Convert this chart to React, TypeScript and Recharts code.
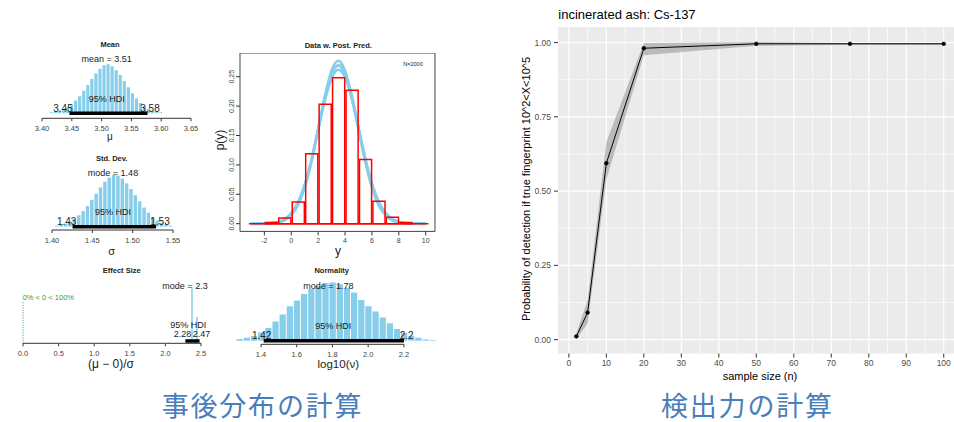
import { type ReactNode } from "react";
import {
  ComposedChart,
  Bar,
  Line,
  Area,
  XAxis,
  YAxis,
  CartesianGrid,
  ReferenceLine,
  ReferenceArea,
} from "recharts";

const SANS = "'Liberation Sans', Arial, Helvetica, sans-serif";
const JP = "'Noto Sans CJK JP', 'Noto Sans CJK SC', sans-serif";
const SKY = "#87CEEB";
const CAPTION = "#4A7EBB";

// --- posterior: mean (mu)
const meanBinStart = 3.413;
const meanBinWidth = 0.0068;
const meanCounts = [
  0.02, 0.03, 0.05, 0.08, 0.12, 0.18, 0.26, 0.35, 0.46, 0.58, 0.7, 0.81, 0.91, 0.98,
  1.0, 0.96, 0.88, 0.78, 0.66, 0.53, 0.41, 0.3, 0.21, 0.14, 0.09, 0.05, 0.03, 0.02,
];
const meanTicks = [3.4, 3.45, 3.5, 3.55, 3.6, 3.65];
const meanHdi = [3.446, 3.577];

// --- posterior: std dev (sigma)
const sdBinStart = 1.404;
const sdBinWidth = 0.0054;
const sdCounts = [
  0.02, 0.04, 0.06, 0.1, 0.15, 0.22, 0.3, 0.4, 0.52, 0.64, 0.76, 0.87, 0.95, 1.0,
  0.99, 0.93, 0.84, 0.73, 0.61, 0.49, 0.37, 0.27, 0.18, 0.12, 0.07, 0.04, 0.02,
];
const sdTicks = [1.4, 1.45, 1.5, 1.55];
const sdHdi = [1.4255, 1.529];

// --- posterior: effect size
const effBinStart = 2.335;
const effBinWidth = 0.07;
const effCounts = [1.0, 0.46];
const effTicks = [0, 0.5, 1.0, 1.5, 2.0, 2.5];
const effHdi = [2.28, 2.48];

// --- posterior: normality log10(nu)
const nuBinStart = 1.264;
const nuBinWidth = 0.04;
const nuCounts = [
  0.03, 0.05, 0.08, 0.14, 0.22, 0.33, 0.45, 0.59, 0.69, 0.8, 0.89, 0.94, 0.99, 1.0,
  0.97, 0.91, 0.83, 0.7, 0.59, 0.5, 0.4, 0.3, 0.2, 0.13, 0.08, 0.05, 0.02, 0.01,
];
const nuTicks = [1.4, 1.6, 1.8, 2.0, 2.2];
const nuHdi = [1.415, 2.2];

// --- data with posterior predictive
const ppX = [-3, -2.5, -2, -1.5, -1, -0.5, 0, 0.5, 1, 1.5, 2, 2.5, 3, 3.5, 4, 4.5, 5, 5.5, 6, 6.5, 7, 7.5, 8, 8.5, 9, 9.5, 10];
const ppMid = [
  0.00002, 0.00007, 0.00026, 0.00088, 0.0026, 0.0069, 0.0162, 0.0341, 0.064, 0.1072, 0.1602,
  0.2136, 0.254, 0.2696, 0.2552, 0.2155, 0.1624, 0.1092, 0.0655, 0.035, 0.0167, 0.0071, 0.0027,
  0.0009, 0.0003, 0.0001, 0.00003,
];
const ppHi = [
  0.00001, 0.00005, 0.0002, 0.0007, 0.0021, 0.0058, 0.0144, 0.0316, 0.0614, 0.1056, 0.161,
  0.2177, 0.2608, 0.277, 0.2608, 0.2177, 0.161, 0.1056, 0.0614, 0.0316, 0.0144, 0.0058, 0.0021,
  0.0007, 0.0002, 0.00005, 0.00001,
];
const ppLo = [
  0.00003, 0.0001, 0.0004, 0.0011, 0.0031, 0.0079, 0.0179, 0.0364, 0.0663, 0.1084, 0.1589,
  0.2092, 0.2471, 0.262, 0.2493, 0.2129, 0.1631, 0.1122, 0.0692, 0.0383, 0.0191, 0.0085, 0.0034,
  0.0012, 0.0004, 0.00015, 0.00005,
];
const dataBinCenters = [-1.5, -0.5, 0.5, 1.5, 2.5, 3.5, 4.5, 5.5, 6.5, 7.5, 8.5];
const dataHeights = [0.002, 0.0097, 0.037, 0.119, 0.203, 0.248, 0.227, 0.109, 0.038, 0.011, 0.002];
const ppXTicks = [-2, 0, 2, 4, 6, 8, 10];
const ppYTicks = [0, 0.05, 0.1, 0.15, 0.2, 0.25];

// --- power curve (right)
const sampleSizes = [2, 5, 10, 20, 50, 75, 100];
const detectProb = [0.011, 0.091, 0.594, 0.981, 0.996, 0.996, 0.996];
const detectLo = [0.002, 0.054, 0.54, 0.957, 0.989, 0.993, 0.993];
const detectHi = [0.022, 0.132, 0.665, 0.999, 1.002, 0.999, 0.999];
const powXTicks = [0, 10, 20, 30, 40, 50, 60, 70, 80, 90, 100];
const powXMinor = [5, 15, 25, 35, 45, 55, 65, 75, 85, 95];
const powYTicks = [0, 0.25, 0.5, 0.75, 1.0];
const powYMinor = [0.125, 0.375, 0.625, 0.875];

type HistProps = {
  left: number;
  top: number;
  width: number;
  height: number;
  xDomain: [number, number];
  yDomain: [number, number];
  ticks: number[];
  digits: number;
  binStart: number;
  binWidth: number;
  counts: number[];
  hdi: number[];
  barPx?: number;
  children?: ReactNode;
};

function Hist(p: HistProps) {
  const M = 14;
  const data = p.counts.map((h, i) => ({ x: p.binStart + (i + 0.5) * p.binWidth, h }));
  const pxPerUnit = p.width / (p.xDomain[1] - p.xDomain[0]);
  const barSize = p.barPx ?? Math.max(1, p.binWidth * pxPerUnit - 0.9);
  const yMin = p.yDomain[0];
  return (
    <div style={{ position: "absolute", left: p.left - M, top: p.top - 4 }}>
      <ComposedChart
        width={p.width + 2 * M}
        height={p.height + 24}
        data={data}
        margin={{ top: 4, right: M, bottom: 0, left: M }}
      >
        <XAxis
          dataKey="x"
          type="number"
          domain={p.xDomain}
          allowDataOverflow
          ticks={p.ticks}
          interval={0}
          tickFormatter={(v: number) => v.toFixed(p.digits)}
          height={20}
          tickSize={3}
          tickMargin={4.4}
          axisLine={false}
          tickLine={{ stroke: "#333" }}
          tick={{ fontSize: 7.5, fill: "#444", fontFamily: SANS }}
        />
        <YAxis hide type="number" domain={p.yDomain} allowDataOverflow />
        <Bar dataKey="h" fill={SKY} barSize={barSize} isAnimationActive={false} />
        <ReferenceLine
          segment={[
            { x: p.ticks[0], y: yMin },
            { x: p.ticks[p.ticks.length - 1], y: yMin },
          ]}
          stroke="#333"
          strokeWidth={1}
          ifOverflow="visible"
        />
        <ReferenceLine
          segment={[
            { x: p.hdi[0], y: 0 },
            { x: p.hdi[1], y: 0 },
          ]}
          stroke="#000"
          strokeWidth={3.5}
          ifOverflow="visible"
        />
        {p.children}
      </ComposedChart>
    </div>
  );
}

// shared geometry of the "Data w. Post. Pred." panel
const PP = {
  plotL: 240,
  plotT: 53.3,
  plotW: 195,
  plotH: 178.4,
  YW: 20,
  xDomain: [-3.81, 10.69] as [number, number],
  yDomain: [-0.0131, 0.2903] as [number, number],
};

function PostPred() {
  const rows = ppX.map((x, i) => ({ x, lo: ppLo[i], mid: ppMid[i], hi: ppHi[i] }));
  return (
    <div style={{ position: "absolute", left: PP.plotL - PP.YW, top: PP.plotT }}>
      <ComposedChart
        width={PP.plotW + PP.YW + 4}
        height={PP.plotH + 20}
        data={rows}
        margin={{ top: 0, right: 4, bottom: 0, left: 0 }}
      >
        <XAxis
          dataKey="x"
          type="number"
          domain={PP.xDomain}
          allowDataOverflow
          ticks={ppXTicks}
          interval={0}
          height={20}
          tickSize={4}
          tickMargin={2.4}
          axisLine={false}
          tickLine={{ stroke: "#333" }}
          tick={{ fontSize: 7, fill: "#444", fontFamily: SANS }}
        />
        <YAxis
          type="number"
          domain={PP.yDomain}
          allowDataOverflow
          ticks={ppYTicks}
          interval={0}
          width={PP.YW}
          tickSize={4}
          tickMargin={4.3}
          axisLine={false}
          tickLine={{ stroke: "#333" }}
          tick={(t: any) => (
            <text
              x={t.x}
              y={t.y}
              transform={`rotate(-90 ${t.x} ${t.y})`}
              textAnchor="middle"
              dominantBaseline="central"
              fontSize={7}
              fill="#444"
              fontFamily={SANS}
            >
              {Number(t.payload.value).toFixed(2)}
            </text>
          )}
        />
        <Line dataKey="lo" type="monotone" stroke={SKY} strokeWidth={2.5} dot={false} isAnimationActive={false} />
        <Line dataKey="mid" type="monotone" stroke={SKY} strokeWidth={3} dot={false} isAnimationActive={false} />
        <Line dataKey="hi" type="monotone" stroke={SKY} strokeWidth={2.5} dot={false} isAnimationActive={false} />
        <ReferenceArea
          x1={PP.xDomain[0]}
          x2={PP.xDomain[1]}
          y1={PP.yDomain[0]}
          y2={PP.yDomain[1]}
          fill="none"
          fillOpacity={0}
          stroke="#444"
          strokeWidth={1}
        />
      </ComposedChart>
    </div>
  );
}

// red data histogram, drawn as its own layer on top of the predictive curves
function DataHist() {
  const rows = dataBinCenters.map((x, i) => ({ x, h: dataHeights[i] }));
  const binPx = PP.plotW / (PP.xDomain[1] - PP.xDomain[0]);
  return (
    <div style={{ position: "absolute", left: PP.plotL - PP.YW, top: PP.plotT }}>
      <ComposedChart
        width={PP.plotW + PP.YW + 4}
        height={PP.plotH + 20}
        data={rows}
        margin={{ top: 0, right: 4, bottom: 0, left: 0 }}
      >
        <XAxis
          dataKey="x"
          type="number"
          domain={PP.xDomain}
          allowDataOverflow
          height={20}
          tick={false}
          tickLine={false}
          axisLine={false}
        />
        <YAxis
          type="number"
          domain={PP.yDomain}
          allowDataOverflow
          width={PP.YW}
          tick={false}
          tickLine={false}
          axisLine={false}
        />
        <ReferenceLine
          segment={[
            { x: -3.15, y: 0 },
            { x: 10.2, y: 0 },
          ]}
          stroke="#FF0000"
          strokeWidth={1.6}
        />
        <Bar
          dataKey="h"
          fill="none"
          stroke="#FF0000"
          strokeWidth={1.5}
          barSize={binPx}
          isAnimationActive={false}
        />
      </ComposedChart>
    </div>
  );
}

function PowerChart() {
  const plotL = 558.3;
  const plotT = 26.7;
  const plotW = 404.1;
  const plotH = 326.6;
  const YW = 40;
  const XH = 24;
  const rows = sampleSizes.map((n, i) => ({
    n,
    p: detectProb[i],
    band: [detectLo[i], detectHi[i]],
  }));
  return (
    <div style={{ position: "absolute", left: plotL - YW, top: plotT }}>
      <ComposedChart
        width={plotW + YW}
        height={plotH + XH}
        data={rows}
        margin={{ top: 0, right: 0, bottom: 0, left: 0 }}
      >
        <CartesianGrid
          fill="#EBEBEB"
          stroke="#fff"
          strokeWidth={0.6}
          horizontalValues={powYMinor}
          verticalValues={powXMinor}
        />
        <CartesianGrid
          stroke="#fff"
          strokeWidth={1.2}
          horizontalValues={powYTicks}
          verticalValues={powXTicks}
        />
        <XAxis
          dataKey="n"
          type="number"
          domain={[-2.9, 104.9]}
          allowDataOverflow
          ticks={powXTicks}
          interval={0}
          height={XH}
          tickSize={4}
          tickMargin={2.8}
          axisLine={false}
          tickLine={{ stroke: "#333" }}
          tick={{ fontSize: 8.5, fill: "#4D4D4D", fontFamily: SANS }}
        />
        <YAxis
          type="number"
          domain={[-0.047, 1.0525]}
          allowDataOverflow
          ticks={powYTicks}
          interval={0}
          width={YW}
          tickSize={4}
          tickMargin={3}
          axisLine={false}
          tickLine={{ stroke: "#333" }}
          tickFormatter={(v: number) => v.toFixed(2)}
          tick={{ fontSize: 8.5, fill: "#4D4D4D", fontFamily: SANS }}
        />
        <Area
          dataKey="band"
          type="linear"
          fill="#7F7F7F"
          fillOpacity={0.45}
          stroke="none"
          isAnimationActive={false}
        />
        <Line
          dataKey="p"
          type="linear"
          stroke="#000"
          strokeWidth={1}
          dot={{ r: 1.9, fill: "#000", stroke: "#000", strokeWidth: 0.5 }}
          isAnimationActive={false}
        />
      </ComposedChart>
    </div>
  );
}

function T(props: {
  x: number;
  y: number;
  size: number;
  children: ReactNode;
  bold?: boolean;
  anchor?: "start" | "middle" | "end";
  fill?: string;
  rotate?: boolean;
  family?: string;
  spacing?: number;
}) {
  const { x, y, size, bold, anchor = "middle", fill = "#222", rotate, family = SANS, spacing } = props;
  return (
    <text
      x={x}
      y={y}
      fontSize={size}
      fontWeight={bold ? "bold" : "normal"}
      textAnchor={anchor}
      fill={fill}
      fontFamily={family}
      letterSpacing={spacing}
      dominantBaseline={rotate ? "central" : undefined}
      transform={rotate ? `rotate(-90 ${x} ${y})` : undefined}
    >
      {props.children}
    </text>
  );
}

export default function App() {
  return (
    <div
      style={{
        position: "absolute",
        left: 0,
        top: 0,
        width: 954,
        height: 422,
        overflow: "hidden",
        background: "#fff",
        fontFamily: SANS,
      }}
    >
      <Hist
        left={41.7}
        top={60}
        width={149}
        height={58.3}
        xDomain={[3.4, 3.65]}
        yDomain={[-0.102, 1.088]}
        ticks={meanTicks}
        digits={2}
        binStart={meanBinStart}
        binWidth={meanBinWidth}
        counts={meanCounts}
        hdi={meanHdi}
      />
      <Hist
        left={51.7}
        top={170}
        width={121}
        height={60}
        xDomain={[1.4, 1.55]}
        yDomain={[-0.064, 1.097]}
        ticks={sdTicks}
        digits={2}
        binStart={sdBinStart}
        binWidth={sdBinWidth}
        counts={sdCounts}
        hdi={sdHdi}
      />
      <Hist
        left={22.7}
        top={285}
        width={178}
        height={58.3}
        xDomain={[0, 2.5]}
        yDomain={[-0.044, 1.063]}
        ticks={effTicks}
        digits={1}
        binStart={effBinStart}
        binWidth={effBinWidth}
        counts={effCounts}
        hdi={effHdi}
        barPx={1.5}
      >
        <ReferenceLine
          segment={[
            { x: 0, y: -0.044 },
            { x: 0, y: 0.75 },
          ]}
          stroke="#3A9A3A"
          strokeWidth={1}
          strokeDasharray="1 1.5"
          ifOverflow="visible"
        />
      </Hist>
      <Hist
        left={232}
        top={278}
        width={208}
        height={66.3}
        xDomain={[1.2376, 2.4022]}
        yDomain={[-0.062, 1.077]}
        ticks={nuTicks}
        digits={1}
        binStart={nuBinStart}
        binWidth={nuBinWidth}
        counts={nuCounts}
        hdi={nuHdi}
      />
      <PostPred />
      <DataHist />
      <PowerChart />

      <svg
        width={954}
        height={422}
        style={{ position: "absolute", left: 0, top: 0, pointerEvents: "none" }}
      >
        {/* Mean */}
        <T x={110} y={47} size={7.5} bold>Mean</T>
        <T x={106.7} y={62.2} size={9}>mean = 3.51</T>
        <T x={106.7} y={101.5} size={9}>95% HDI</T>
        <T x={63} y={111.6} size={10}>3.45</T>
        <T x={150} y={111.6} size={10}>3.58</T>
        <T x={110} y={139.5} size={10}>μ</T>
        {/* Std Dev */}
        <T x={111.7} y={161} size={7.5} bold>Std. Dev.</T>
        <T x={113} y={175.5} size={9}>mode = 1.48</T>
        <T x={113} y={214.9} size={9}>95% HDI</T>
        <T x={66.7} y={224.6} size={10}>1.43</T>
        <T x={160} y={224.6} size={10}>1.53</T>
        <T x={111.7} y={254.5} size={11}>σ</T>
        {/* Effect size */}
        <T x={121.7} y={272.7} size={7.5} bold>Effect Size</T>
        <T x={185} y={289.2} size={9}>mode = 2.3</T>
        <T x={22.7} y={300.4} size={7.5} anchor="start" fill="#3A9A3A">0% &lt; 0 &lt; 100%</T>
        <T x={188.3} y={328.2} size={9}>95% HDI</T>
        <T x={182.5} y={337.2} size={9}>2.28</T>
        <T x={201.5} y={337.2} size={9}>2.47</T>
        <T x={111} y={367.5} size={12}>(μ − 0)/σ</T>
        {/* Normality */}
        <T x={331.7} y={273.4} size={7.5} bold>Normality</T>
        <T x={328.3} y={288.9} size={9}>mode = 1.78</T>
        <T x={333.3} y={328.9} size={9}>95% HDI</T>
        <T x={261.7} y={338.6} size={10}>1.42</T>
        <T x={406.7} y={338.6} size={10}>2.2</T>
        <T x={338.3} y={368} size={11.5}>log10(ν)</T>
        {/* Post pred */}
        <T x={338.3} y={47.7} size={7.5} bold>Data w. Post. Pred.</T>
        <T x={413} y={66.3} size={5.5}>N=2000</T>
        <T x={220} y={140} size={12} rotate>p(y)</T>
        <T x={338} y={255} size={12}>y</T>
        {/* Right chart */}
        <T x={558.3} y={18.5} size={13} anchor="start" fill="#000">incinerated ash: Cs-137</T>
        <T x={526} y={189} size={11} rotate fill="#000">Probability of detection if true fingerprint 10^2&lt;X&lt;10^5</T>
        <T x={760} y={379.5} size={11} fill="#000">sample size (n)</T>
        {/* Captions */}
        <T x={161.7} y={415.5} size={27} anchor="start" fill={CAPTION} family={JP} spacing={1.8}>事後分布の計算</T>
        <T x={661} y={415.5} size={27} anchor="start" fill={CAPTION} family={JP} spacing={1.8}>検出力の計算</T>
      </svg>
    </div>
  );
}
